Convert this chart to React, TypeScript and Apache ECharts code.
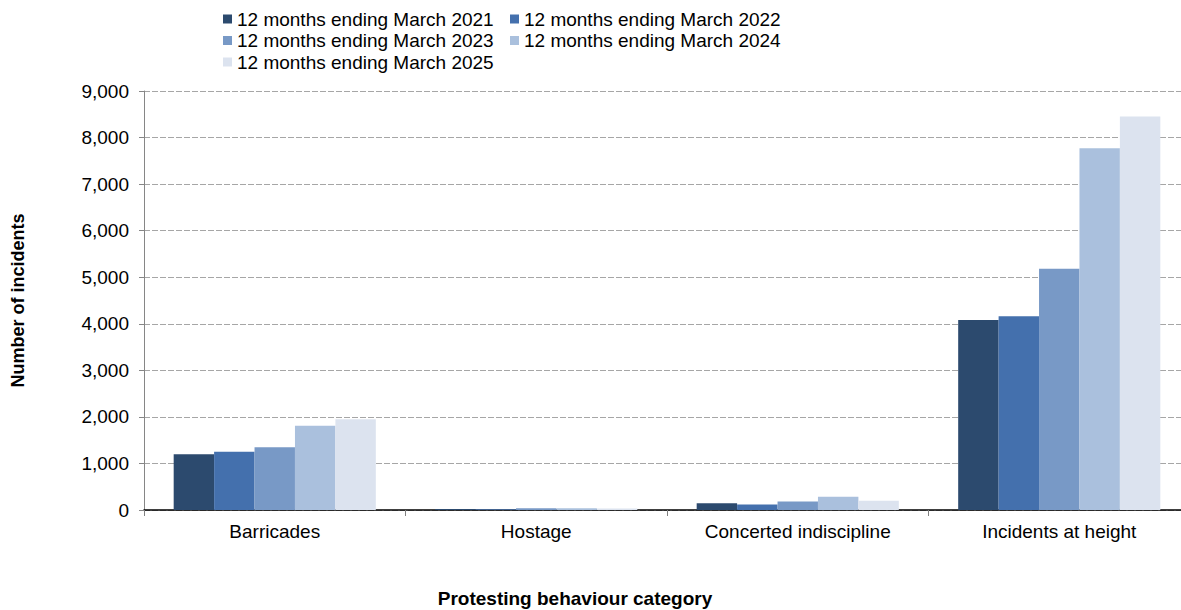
import React, { useEffect, useRef } from "react";
import * as echarts from "echarts";

const categories = ["Barricades", "Hostage", "Concerted indiscipline", "Incidents at height"];
const seriesNames = [
  "12 months ending March 2021",
  "12 months ending March 2022",
  "12 months ending March 2023",
  "12 months ending March 2024",
  "12 months ending March 2025",
];
const values2021 = [1195, 20, 145, 4080];
const values2022 = [1250, 15, 120, 4160];
const values2023 = [1350, 40, 185, 5180];
const values2024 = [1810, 40, 285, 7770];
const values2025 = [1950, 30, 200, 8450];
const allValues = [values2021, values2022, values2023, values2024, values2025];
const colors = ["#2C4A6E", "#4470AD", "#7899C6", "#AAC0DD", "#DCE3EF"];

const FONT = "'Liberation Sans', Arial, sans-serif";

export default function App() {
  const ref = useRef<HTMLDivElement>(null);
  useEffect(() => {
    if (!ref.current) return;
    const chart = echarts.init(ref.current, undefined, { renderer: "svg" });
    const legendCommon = {
      orient: "vertical" as const,
      top: 8.5,
      padding: 0,
      itemGap: 0.5,
      itemWidth: 9,
      itemHeight: 9,
      icon: "rect",
      textStyle: { fontSize: 19, lineHeight: 21, color: "#000", fontFamily: FONT },
    };
    chart.setOption({
      animation: false,
      color: colors,
      textStyle: { fontFamily: FONT },
      legend: [
        { ...legendCommon, left: 223, data: [seriesNames[0], seriesNames[2], seriesNames[4]] },
        { ...legendCommon, left: 510, data: [seriesNames[1], seriesNames[3]] },
      ],
      grid: { left: 144, right: 0, top: 91, bottom: 100, containLabel: false },
      xAxis: {
        type: "category",
        data: categories,
        axisLine: { lineStyle: { color: "#000", width: 1.5 } },
        axisTick: { show: true, length: 6, lineStyle: { color: "#808080" } },
        axisLabel: { fontSize: 19, color: "#000", margin: 12, fontFamily: FONT },
      },
      yAxis: {
        type: "value",
        min: 0,
        max: 9000,
        interval: 1000,
        name: "Number of incidents",
        nameLocation: "middle",
        nameGap: 117,
        nameRotate: 90,
        nameTextStyle: { fontSize: 18, fontWeight: "bold", color: "#000", fontFamily: FONT },
        axisLine: { show: true, lineStyle: { color: "#868686", width: 1 } },
        axisTick: { show: true, length: 5, lineStyle: { color: "#868686" } },
        axisLabel: {
          fontSize: 19,
          color: "#000",
          margin: 15,
          fontFamily: FONT,
          formatter: (v: number) => v.toLocaleString("en-US"),
        },
        splitLine: { show: true, lineStyle: { color: "#A6A6A6", type: [6, 2], width: 1 } },
      },
      graphic: [
        {
          type: "text",
          x: 575,
          y: 598,
          style: {
            text: "Protesting behaviour category",
            align: "center",
            verticalAlign: "middle",
            fontSize: 19,
            fontWeight: "bold",
            fontFamily: FONT,
            fill: "#000",
          },
        },
      ],
      series: allValues.map((vals, i) => ({
        type: "bar",
        name: seriesNames[i],
        data: vals,
        barGap: "0%",
        barCategoryGap: "22.7%",
        itemStyle: { color: colors[i] },
      })),
    });
    return () => chart.dispose();
  }, []);
  return (
    <div
      style={{
        position: "absolute",
        left: 0,
        top: 0,
        width: 1181,
        height: 610,
        overflow: "hidden",
        background: "#fff",
      }}
    >
      <div ref={ref} style={{ width: 1190, height: 610 }} />
    </div>
  );
}
